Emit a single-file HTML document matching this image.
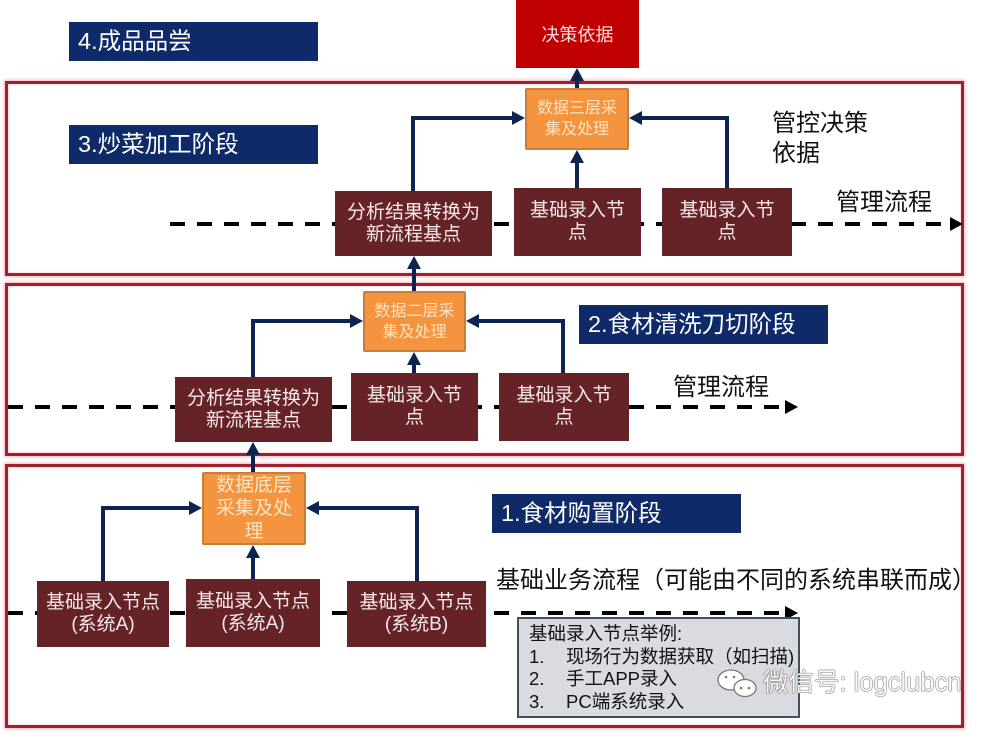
<!DOCTYPE html>
<html>
<head>
<meta charset="utf-8">
<style>
  html,body{margin:0;padding:0;background:#fff;}
  body{width:991px;height:734px;position:relative;overflow:hidden;font-family:"Liberation Sans","Noto Sans CJK SC",sans-serif;}
  .frame{position:absolute;border:3px solid #a0202c;box-shadow:0 0 3px 1px #f3b5bb, inset 0 0 2px #f3b5bb;box-sizing:border-box;}
  .banner{position:absolute;background:#0f2a68;color:#fff;font-size:23.5px;line-height:39px;padding-left:9px;box-sizing:border-box;height:39px;white-space:nowrap;}
  .box{position:absolute;background:#662327;color:#f6e9e6;font-size:19px;line-height:22px;display:flex;align-items:center;justify-content:center;text-align:center;box-sizing:border-box;z-index:3;}
  .orange{position:absolute;background:#f4943f;border:2px solid #c97d3a;color:#fbe4c4;display:flex;align-items:center;justify-content:center;text-align:center;box-sizing:border-box;z-index:3;border-radius:2px;}
  .lbl{position:absolute;color:#111;font-size:24px;line-height:28px;white-space:nowrap;}
  svg{position:absolute;left:0;top:0;z-index:2;}
</style>
</head>
<body>

<!-- frames -->
<div class="frame" style="left:5px;top:81px;width:959px;height:195px;"></div>
<div class="frame" style="left:5px;top:283px;width:959px;height:173px;"></div>
<div class="frame" style="left:5px;top:464px;width:959px;height:264px;"></div>

<!-- banners -->
<div class="banner" style="left:69px;top:22px;width:249px;">4.成品品尝</div>
<div class="banner" style="left:69px;top:125px;width:249px;">3.炒菜加工阶段</div>
<div class="banner" style="left:579px;top:305px;width:249px;">2.食材清洗刀切阶段</div>
<div class="banner" style="left:492px;top:494px;width:249px;">1.食材购置阶段</div>

<!-- decision box -->
<div style="position:absolute;left:516px;top:0;width:123px;height:68px;background:#c00000;color:#f7dede;font-size:18px;display:flex;align-items:center;justify-content:center;">决策依据</div>

<!-- labels -->
<div class="lbl" style="left:772px;top:109px;line-height:30px;">管控决策<br>依据</div>
<div class="lbl" style="left:836px;top:189px;">管理流程</div>
<div class="lbl" style="left:673px;top:374px;">管理流程</div>
<div class="lbl" style="left:496px;top:567px;">基础业务流程（可能由不同的系统串联而成）</div>

<svg width="991" height="734" viewBox="0 0 991 734">
  <!-- dashed flows -->
  <g stroke="#000" stroke-width="4" stroke-dasharray="15 12" fill="none">
    <path d="M170 224 H950"/>
    <path d="M8 407 H786"/>
    <path d="M8 613 H786"/>
  </g>
  <g fill="#000">
    <polygon points="963,224 950,217 950,231"/>
    <polygon points="798,407 785,400 785,414"/>
    <polygon points="798,613 785,606 785,620"/>
  </g>
  <!-- navy connectors -->
  <g stroke="#0e2450" stroke-width="4" fill="none" stroke-linejoin="miter">
    <path d="M413 191 V118 H514"/>
    <path d="M577 188 V160"/>
    <path d="M727 188 V118 H640"/>
    <path d="M577 88 V79"/>
    <path d="M414 291 V266"/>
    <path d="M253 377 V321 H352"/>
    <path d="M414 373 V362"/>
    <path d="M563 373 V321 H477"/>
    <path d="M253 472 V452"/>
    <path d="M103 581 V508 H191"/>
    <path d="M253 579 V555"/>
    <path d="M417 581 V508 H317"/>
  </g>
  <g fill="#0e2450">
    <polygon points="525,118 512,111 512,125"/>
    <polygon points="577,150 570,163 584,163"/>
    <polygon points="629,118 642,111 642,125"/>
    <polygon points="577,68 570,81 584,81"/>
    <polygon points="414,256 407,269 421,269"/>
    <polygon points="363,321 350,314 350,328"/>
    <polygon points="414,352 407,365 421,365"/>
    <polygon points="466,321 479,314 479,328"/>
    <polygon points="253,442 246,455 260,455"/>
    <polygon points="202,508 189,501 189,515"/>
    <polygon points="253,545 246,558 260,558"/>
    <polygon points="306,508 319,501 319,515"/>
  </g>
</svg>

<!-- orange boxes -->
<div class="orange" style="left:525px;top:88px;width:104px;height:62px;font-size:16px;line-height:21px;">数据三层采<br>集及处理</div>
<div class="orange" style="left:363px;top:291px;width:103px;height:61px;font-size:16px;line-height:21px;">数据二层采<br>集及处理</div>
<div class="orange" style="left:202px;top:472px;width:104px;height:73px;font-size:19px;line-height:23px;">数据底层<br>采集及处<br>理</div>

<!-- stage 3 boxes -->
<div class="box" style="left:335px;top:191px;width:157px;height:65px;">分析结果转换为<br>新流程基点</div>
<div class="box" style="left:514px;top:188px;width:127px;height:68px;">基础录入节<br>点</div>
<div class="box" style="left:662px;top:188px;width:130px;height:68px;">基础录入节<br>点</div>

<!-- stage 2 boxes -->
<div class="box" style="left:175px;top:377px;width:157px;height:65px;">分析结果转换为<br>新流程基点</div>
<div class="box" style="left:351px;top:373px;width:127px;height:68px;">基础录入节<br>点</div>
<div class="box" style="left:499px;top:373px;width:130px;height:68px;">基础录入节<br>点</div>

<!-- stage 1 boxes -->
<div class="box" style="left:37px;top:581px;width:132px;height:66px;">基础录入节点<br>(系统A)</div>
<div class="box" style="left:186px;top:579px;width:134px;height:68px;">基础录入节点<br>(系统A)</div>
<div class="box" style="left:347px;top:581px;width:139px;height:66px;">基础录入节点<br>(系统B)</div>

<!-- example box -->
<div style="position:absolute;left:517px;top:617px;width:283px;height:101px;background:#d9dbe1;border:2.5px solid #3e5160;box-sizing:border-box;z-index:3;font-size:18.5px;line-height:22.5px;color:#111;padding:4px 0 0 10px;white-space:nowrap;">
  <div>基础录入节点举例:</div>
  <div><span style="display:inline-block;width:37px;">1.</span>现场行为数据获取（如扫描)</div>
  <div><span style="display:inline-block;width:37px;">2.</span>手工APP录入</div>
  <div><span style="display:inline-block;width:37px;">3.</span>PC端系统录入</div>
</div>

<!-- watermark -->
<svg width="991" height="734" viewBox="0 0 991 734" style="z-index:4;">
  <g fill="#fff" stroke="#777" stroke-width="1.3">
    <ellipse cx="731" cy="680" rx="13" ry="10"/>
    <ellipse cx="745" cy="688" rx="11" ry="8.5"/>
  </g>
  <g fill="#777">
    <circle cx="741" cy="688" r="1.3"/>
    <circle cx="749" cy="688" r="1.3"/>
    <circle cx="726" cy="677" r="1.3"/>
    <circle cx="734" cy="677" r="1.3"/>
  </g>
</svg>
<div style="position:absolute;left:763px;top:667px;font-size:25.5px;line-height:32px;color:#f8f8f8;text-shadow:0 0 1px #555,0 0 1px #555,0 0 1px #555;z-index:5;white-space:nowrap;">微信号: logclubcn</div>

</body>
</html>
